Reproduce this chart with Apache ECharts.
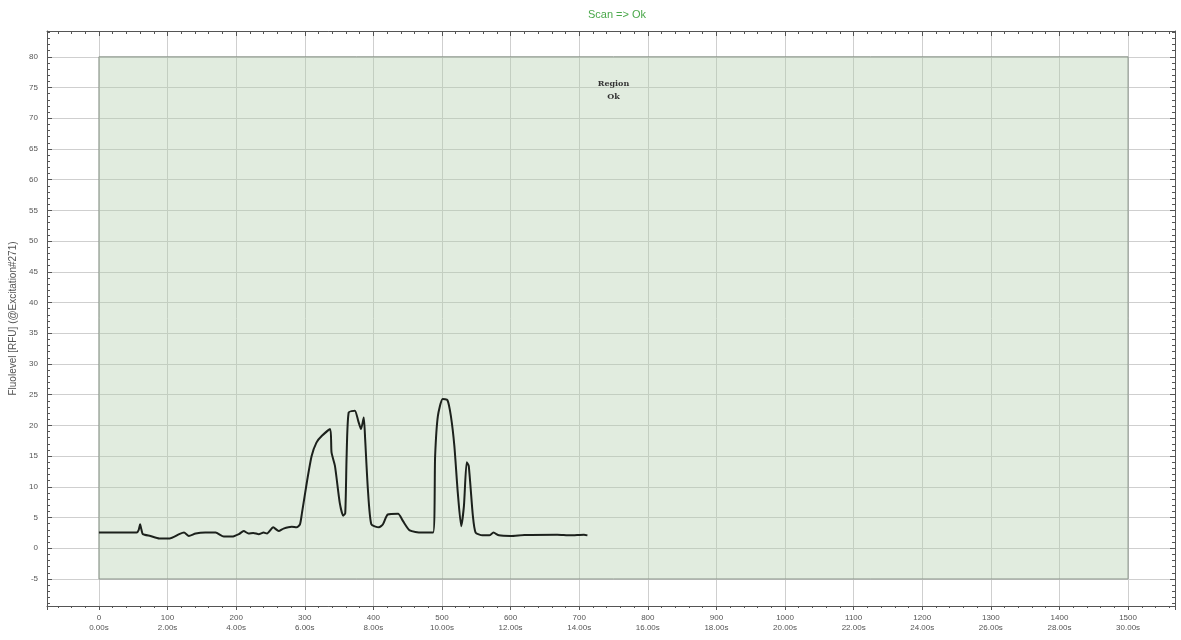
<!DOCTYPE html>
<html>
<head>
<meta charset="utf-8">
<script src="https://cdn.jsdelivr.net/npm/echarts@6/dist/echarts.min.js"></script>
<style>
    html, body { margin: 0; padding: 0; background: #fff; }
    #chart { width: 1181px; height: 640px; }
</style>
</head>
<body>
<div id="chart"></div>
<script>
    // scan samples (x = sample index, 50 samples per second)
    var timeValues = [0, 55, 58, 60, 62, 64, 75, 88, 103, 117, 124, 131, 141, 155, 170, 182, 194, 204, 211, 218,
        225, 233, 240, 245, 254, 262, 269, 281, 288, 293, 296, 303, 310, 317, 325, 337, 339, 344, 351, 356,
        359, 361, 364, 373, 378, 382, 386, 388, 392, 397, 408, 414, 421, 436, 443, 453, 470, 487, 490, 494,
        501, 508, 513, 518, 523, 528, 532, 536, 539, 545, 549, 559, 569, 575, 583, 600, 620, 668, 687, 707, 712];
    var fluoValues = [2.55, 2.55, 3.0, 3.9, 3.0, 2.3, 2.0, 1.6, 1.6, 2.3, 2.55, 2.0, 2.4, 2.55, 2.55, 1.9, 1.9, 2.3, 2.8, 2.4,
        2.5, 2.3, 2.55, 2.4, 3.4, 2.8, 3.2, 3.5, 3.4, 3.9, 5.8, 10.7, 15.0, 17.2, 18.3, 19.4, 15.6, 13.4, 7.4, 5.3,
        5.7, 15.0, 22.1, 22.4, 20.7, 19.4, 21.3, 17.8, 9.6, 3.9, 3.4, 3.9, 5.5, 5.6, 4.45, 2.9, 2.55, 2.55, 15.0, 21.5,
        24.3, 24.1, 21.5, 16.7, 9.1, 3.6, 6.9, 14.0, 13.4, 5.3, 2.55, 2.1, 2.1, 2.55, 2.1, 2.0, 2.15, 2.2, 2.1, 2.2, 2.1];

    var regionX = [0, 1500];
    var regionY = [-5, 80];
    var xRange = [-75.7, 1568.4];
    var yRange = [-9.4, 84.2];
    var samplesPerSecond = 50;

    var titleText = 'Scan => Ok';
    var regionLabel = 'Region\nOk';
    var yAxisName = 'Fluolevel [RFU] (@Excitation#271)';

    var frameColor = '#555';
    var gridColor = '#cfcfcf';
    var labelFont = 'Liberation Sans';

    var chart = echarts.init(document.getElementById('chart'), null, {renderer: 'canvas'});

    var points = timeValues.map(function (t, i) {
        return [t, fluoValues[i]];
    });

    function mirrorAxis(base) {
        // top / right copies: only the frame and inward ticks
        return Object.assign({}, base, {
            axisLabel: {show: false},
            splitLine: {show: false},
            name: '',
            axisTick: {show: true, inside: true, length: 5, lineStyle: {color: frameColor}},
            minorTick: {show: true, splitNumber: 5, length: 3, lineStyle: {color: frameColor}}
        });
    }

    var xBase = {
        type: 'value',
        min: xRange[0],
        max: xRange[1],
        splitNumber: 16,
        axisLine: {show: true, onZero: false, lineStyle: {color: frameColor, width: 1}},
        axisTick: {show: true, inside: false, length: 4, lineStyle: {color: frameColor}},
        minorTick: {show: true, splitNumber: 5, length: 2, lineStyle: {color: frameColor}},
        splitLine: {show: true, lineStyle: {color: gridColor, width: 1}},
        axisLabel: {
            fontSize: 8,
            color: '#555',
            fontFamily: labelFont,
            lineHeight: 10,
            margin: 7,
            formatter: function (v) {
                if (Math.abs(v % 100) > 1e-6) {
                    return '';
                }
                return v + '\n' + (v / samplesPerSecond).toFixed(2) + 's';
            }
        }
    };

    var yBase = {
        type: 'value',
        min: yRange[0],
        max: yRange[1],
        splitNumber: 19,
        axisLine: {show: true, onZero: false, lineStyle: {color: frameColor, width: 1}},
        axisTick: {show: true, inside: true, length: 5, lineStyle: {color: frameColor}},
        minorTick: {show: true, splitNumber: 5, length: 3, lineStyle: {color: frameColor}},
        splitLine: {show: true, lineStyle: {color: gridColor, width: 1}},
        axisLabel: {
            fontSize: 8,
            color: '#555',
            fontFamily: labelFont,
            margin: 9,
            formatter: function (v) {
                if (Math.abs(v % 5) > 1e-6) {
                    return '';
                }
                return String(v);
            }
        },
        name: yAxisName,
        nameLocation: 'middle',
        nameRotate: 90,
        nameGap: 29,
        nameTextStyle: {fontSize: 10, color: '#555', fontFamily: labelFont}
    };

    var option = {
        animation: false,
        backgroundColor: '#fff',
        title: {
            text: titleText,
            left: 612,
            textAlign: 'center',
            top: 4,
            textStyle: {fontSize: 11, fontWeight: 'normal', color: '#4aa84a', fontFamily: labelFont}
        },
        grid: {left: 45, right: 6, top: 31, bottom: 34, containLabel: false},
        xAxis: [
            Object.assign({position: 'bottom'}, xBase),
            Object.assign(mirrorAxis(xBase), {position: 'top'})
        ],
        yAxis: [
            Object.assign({position: 'left'}, yBase),
            Object.assign(mirrorAxis(yBase), {position: 'right'})
        ],
        series: [{
            type: 'line',
            data: points,
            showSymbol: false,
            smooth: 0.2,
            lineStyle: {color: '#1c211c', width: 2},
            z: 3,
            markArea: {
                silent: true,
                itemStyle: {color: 'rgba(176,205,170,0.38)', borderColor: '#8c968c', borderWidth: 1},
                label: {
                    show: true,
                    position: 'insideTop',
                    distance: 21,
                    formatter: regionLabel,
                    fontFamily: 'DejaVu Serif',
                    fontWeight: 'bold',
                    fontSize: 8,
                    lineHeight: 13,
                    color: '#333'
                },
                data: [[
                    {xAxis: regionX[0], yAxis: regionY[0]},
                    {xAxis: regionX[1], yAxis: regionY[1]}
                ]]
            }
        }]
    };

    chart.setOption(option);
</script>
</body>
</html>
